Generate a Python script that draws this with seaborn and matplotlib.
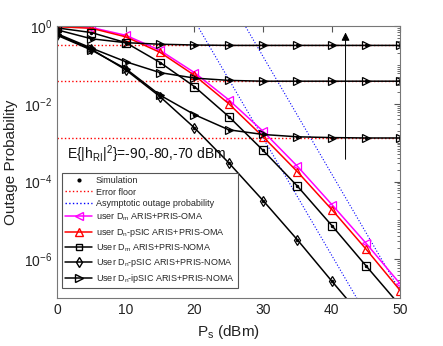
import numpy as np
import pandas as pd
import matplotlib
matplotlib.use('Agg')
import matplotlib.pyplot as plt
import seaborn as sns
from matplotlib.lines import Line2D
from matplotlib.ticker import FixedLocator, LogLocator, NullFormatter

sns.set_style('white')
plt.rcParams['font.family'] = ['Liberation Sans', 'DejaVu Sans']
plt.rcParams['mathtext.default'] = 'regular'

# transmit power (dBm)
ps = [0, 5, 10, 15, 20, 25, 30, 35, 40, 45, 50]

# outage probability as log10 values
oma_dm = [-0.0, -0.04, -0.24, -0.63, -1.2, -1.9, -2.71, -3.61, -4.59, -5.59, -6.64]
oma_dn = [-0.02, -0.06, -0.28, -0.68, -1.27, -2.0, -2.85, -3.75, -4.72, -5.74, -6.81]
noma_dm = [-0.05, -0.17, -0.43, -0.94, -1.56, -2.33, -3.2, -4.12, -5.13, -6.17, -7.2]
noma_dn_psic = [-0.22, -0.6, -1.13, -1.82, -2.62, -3.52, -4.49, -5.5, -6.56, -7.6, -8.6]
ipsic_70 = [-0.1, -0.33, -0.43, -0.47, -0.49, -0.5, -0.5, -0.5, -0.5, -0.5, -0.5]
ipsic_80 = [-0.2, -0.57, -0.92, -1.2, -1.34, -1.4, -1.42, -1.42, -1.42, -1.42, -1.42]
ipsic_90 = [-0.24, -0.62, -1.1, -1.78, -2.28, -2.67, -2.79, -2.85, -2.87, -2.88, -2.88]

# error floors (log10) and asymptotic lines (two end points each)
floors = [-0.5, -1.42, -2.88]
asym_x1 = [20, 45]
asym_y1 = [0.136, -7.41]
asym_x2 = [25, 50]
asym_y2 = [0.72, -6.83]

fig, ax = plt.subplots(figsize=(4.43, 3.46), dpi=100)
fig.subplots_adjust(left=0.129, right=0.904, top=0.925, bottom=0.138)

for f in floors:
    ax.plot([0, 50], [10 ** f, 10 ** f], color='red', ls=':', lw=1.0)

ax.plot(asym_x1, 10 ** np.array(asym_y1), color='blue', ls=':', lw=0.8)
ax.plot(asym_x2, 10 ** np.array(asym_y2), color='blue', ls=':', lw=0.8)

curves = [
    (oma_dm, 'magenta', '<'),
    (oma_dn, 'red', '^'),
    (noma_dm, 'black', 's'),
    (noma_dn_psic, 'black', 'd'),
    (ipsic_70, 'black', '>'),
    (ipsic_80, 'black', '>'),
    (ipsic_90, 'black', '>'),
]
for vals, col, mk in curves:
    df = pd.DataFrame({'ps': ps, 'p': 10 ** np.array(vals)})
    sns.lineplot(data=df, x='ps', y='p', ax=ax, color=col, lw=1.1,
                 marker=mk, markersize=5.5, markerfacecolor='none',
                 markeredgecolor=col, markeredgewidth=0.9)
    if col == 'black':
        ax.plot(ps, 10 ** np.array(vals), ls='none', marker='.', color='k', markersize=3)

ax.set_yscale('log')
ax.set_xlim(0, 50)
ax.set_ylim(1e-7, 1)
ax.set_xticks([0, 10, 20, 30, 40, 50])
ax.yaxis.set_major_locator(FixedLocator([1e-6, 1e-4, 1e-2, 1e0]))
ax.yaxis.set_minor_locator(LogLocator(base=10, subs=np.arange(1, 10), numticks=20))
ax.yaxis.set_minor_formatter(NullFormatter())
ax.tick_params(axis='both', which='both', direction='in', top=True, right=True,
               colors='#555555', labelcolor='#222222', labelsize=10)
ax.tick_params(which='major', length=4)
ax.tick_params(which='minor', length=2)
for s in ax.spines.values():
    s.set_color('#777777')
    s.set_linewidth(0.8)

ax.set_xlabel('P$_s$ (dBm)', fontsize=11, color='#222222')
ax.set_ylabel('Outage Probability', fontsize=11, color='#222222')

ax.annotate('', xy=(42, 0.8), xytext=(42, 10 ** -3.5),
            arrowprops=dict(arrowstyle='-|>', color='k', lw=0.7,
                            mutation_scale=12))
ax.text(1.4, 10 ** -3.3, 'E{|h$_{RI}$|$^2$}=-90,-80,-70 dBm', fontsize=10,
        va='center', ha='left', color='#111111')

handles = [
    Line2D([], [], ls='none', marker='.', color='k', markersize=4),
    Line2D([], [], ls=':', color='red', lw=1.0),
    Line2D([], [], ls=':', color='blue', lw=1.0),
    Line2D([], [], color='magenta', lw=1.1, marker='<', mfc='none', ms=5.5),
    Line2D([], [], color='red', lw=1.1, marker='^', mfc='none', ms=5.5),
    Line2D([], [], color='black', lw=1.1, marker='s', mfc='none', ms=4.5),
    Line2D([], [], color='black', lw=1.1, marker='d', mfc='none', ms=5.5),
    Line2D([], [], color='black', lw=1.1, marker='>', mfc='none', ms=5.5),
]
labels = [
    'Simulation',
    'Error floor',
    'Asymptotic outage probability',
    'user D$_m$ ARIS+PRIS-OMA',
    'user D$_n$-pSIC ARIS+PRIS-OMA',
    'User D$_m$ ARIS+PRIS-NOMA',
    'User D$_n$-pSIC ARIS+PRIS-NOMA',
    'User D$_n$-ipSIC ARIS+PRIS-NOMA',
]
leg = ax.legend(handles, labels, loc='lower left', bbox_to_anchor=(0.014, 0.038),
                borderaxespad=0, fontsize=6.5, handlelength=3.0, labelspacing=0.28,
                handletextpad=0.4, fancybox=False, framealpha=1,
                edgecolor='#555555', borderpad=0.35)
leg.get_frame().set_linewidth(0.8)

fig.savefig('out.png', dpi=100)
